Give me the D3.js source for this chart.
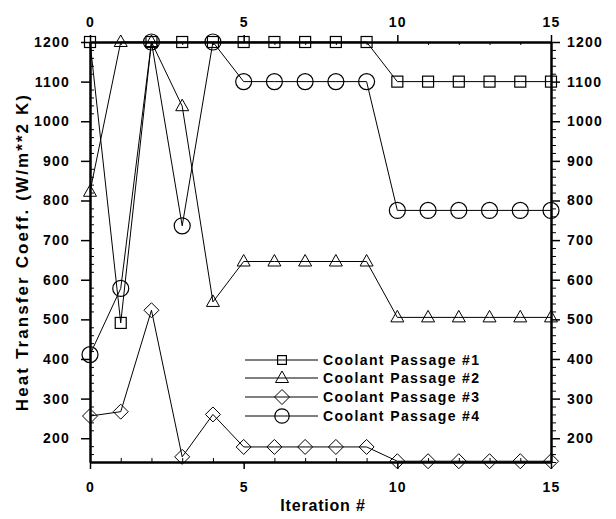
<!DOCTYPE html>
<html>
<head>
<meta charset="utf-8">
<script src="https://cdn.jsdelivr.net/npm/d3@7"></script>
<style>
    body { margin: 0; background: #fff; }
    text { font-family: "Liberation Sans", Arial, sans-serif; font-weight: bold; fill: #000; }
    .tick text { font-size: 14px; letter-spacing: 1.2px; }
    .domain { stroke: #000; stroke-width: 2.5px; }
    .tick line { stroke: #000; stroke-width: 1.5px; }
    .minor .tick line { stroke-width: 1px; }
    .series path { fill: none; stroke: #000; stroke-width: 1px; }
    .mark { fill: none; stroke: #000; stroke-width: 1.2px; }
</style>
</head>
<body>
<svg id="chart" width="616" height="519"></svg>
<script>
    // data
    const iterations = d3.range(0, 16);
    const passage1 = [1200, 491, 1200, 1200, 1200, 1200, 1200, 1200, 1200, 1200, 1100, 1100, 1100, 1100, 1100, 1100];
    const passage2 = [822, 1200, 1200, 1038, 544, 646, 646, 646, 646, 646, 505, 505, 505, 505, 505, 505];
    const passage3 = [256, 267, 523, 153, 260, 178, 178, 178, 178, 178, 142, 142, 142, 142, 142, 142];
    const passage4 = [411, 578, 1200, 736, 1200, 1100, 1100, 1100, 1100, 1100, 775, 775, 775, 775, 775, 775];
    const seriesNames = ["Coolant Passage #1", "Coolant Passage #2", "Coolant Passage #3", "Coolant Passage #4"];
    const seriesSymbols = ["square", "triangle", "diamond", "circle"];
    const xMajor = [0, 5, 10, 15];
    const yMajor = [200, 300, 400, 500, 600, 700, 800, 900, 1000, 1100, 1200];

    const svg = d3.select("#chart");
    const x = d3.scaleLinear().domain([0, 15]).range([90, 551]);
    const y = d3.scaleLinear().domain([140, 1200]).range([462, 42]);
    const fmt = d3.format("d");

    const yMinor = d3.range(140, 1201, 20).filter(v => v % 100 !== 0);
    const xMinor = iterations.filter(v => v % 5 !== 0);

    // minor ticks first
    svg.append("g").attr("class", "minor").attr("transform", `translate(${x(0)},0)`)
        .call(d3.axisLeft(y).tickValues(yMinor).tickSize(-4).tickFormat(""))
        .select(".domain").remove();
    svg.append("g").attr("class", "minor").attr("transform", `translate(${x(15)},0)`)
        .call(d3.axisRight(y).tickValues(yMinor).tickSize(5).tickFormat(""))
        .select(".domain").remove();
    svg.append("g").attr("class", "minor").attr("transform", `translate(0,${y(140)})`)
        .call(d3.axisBottom(x).tickValues(xMinor).tickSize(-4).tickFormat(""))
        .select(".domain").remove();
    svg.append("g").attr("class", "minor").attr("transform", `translate(0,${y(1200)})`)
        .call(d3.axisTop(x).tickValues(xMinor).tickSize(-3).tickFormat(""))
        .select(".domain").remove();

    // major axes
    svg.append("g").attr("transform", `translate(${x(0)},0)`)
        .call(d3.axisLeft(y).tickValues(yMajor).tickFormat(fmt).tickSize(9).tickSizeOuter(0).tickPadding(11));
    svg.append("g").attr("transform", `translate(${x(15)},0)`)
        .call(d3.axisRight(y).tickValues(yMajor).tickFormat(fmt).tickSize(9).tickSizeOuter(0).tickPadding(7));
    svg.append("g").attr("transform", `translate(0,${y(140)})`)
        .call(d3.axisBottom(x).tickValues(xMajor).tickFormat(fmt).tickSize(7).tickSizeOuter(0).tickPadding(13));
    svg.append("g").attr("transform", `translate(0,${y(1200)})`)
        .call(d3.axisTop(x).tickValues(xMajor).tickFormat(fmt).tickSize(7).tickSizeOuter(0).tickPadding(8));

    // axis titles
    svg.append("text")
        .attr("transform", `translate(28,252) rotate(-90)`)
        .attr("text-anchor", "middle")
        .style("font-size", "17px").style("letter-spacing", "2.1px")
        .text("Heat Transfer Coeff. (W/m**2 K)");
    svg.append("text")
        .attr("x", 323).attr("y", 511)
        .attr("text-anchor", "middle")
        .style("font-size", "16px").style("letter-spacing", "0.8px")
        .text("Iteration #");

    function drawMark(g, sym, cx, cy, s) {
        if (sym === "square") {
            g.append("rect").attr("class", "mark")
                .attr("x", cx - s * 0.55).attr("y", cy - s * 0.55)
                .attr("width", s * 1.1).attr("height", s * 1.1);
        } else if (sym === "triangle") {
            g.append("path").attr("class", "mark")
                .attr("d", `M${cx},${cy - s * 0.7}L${cx + s * 0.65},${cy + s * 0.45}L${cx - s * 0.65},${cy + s * 0.45}Z`);
        } else if (sym === "diamond") {
            g.append("path").attr("class", "mark")
                .attr("d", `M${cx},${cy - s * 0.75}L${cx + s * 0.75},${cy}L${cx},${cy + s * 0.75}L${cx - s * 0.75},${cy}Z`);
        } else {
            g.append("circle").attr("class", "mark")
                .attr("cx", cx).attr("cy", cy).attr("r", s * 0.8);
        }
    }

    const allSeries = [passage1, passage2, passage3, passage4];
    const line = d3.line().x((d, i) => x(iterations[i])).y(d => y(d));

    allSeries.forEach((vals, k) => {
        const g = svg.append("g").attr("class", "series");
        g.append("path").attr("d", line(vals));
        vals.forEach((v, i) => drawMark(g, seriesSymbols[k], x(iterations[i]), y(v), 10));
    });

    // legend
    const legendRows = [360, 378, 397, 416];
    seriesNames.forEach((name, k) => {
        const g = svg.append("g").attr("class", "series");
        const ly = legendRows[k];
        g.append("path").attr("d", `M245,${ly}L318,${ly}`);
        drawMark(g, seriesSymbols[k], 282, ly, k === 0 ? 8 : (k === 3 ? 9 : 10));
        g.append("text").attr("x", 323).attr("y", ly + 5)
            .style("font-size", "14px").style("letter-spacing", "1.4px")
            .text(name);
    });
</script>
</body>
</html>
